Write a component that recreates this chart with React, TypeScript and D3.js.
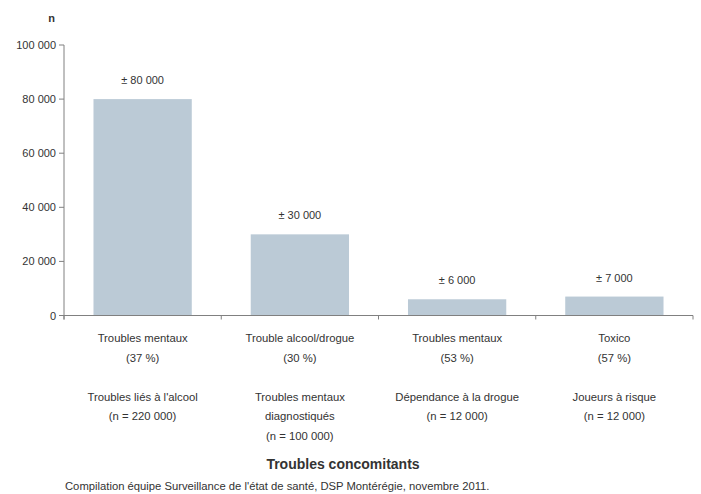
import React from "react";
import * as d3 from "d3";

const categoriesLine1 = ["Troubles mentaux", "Trouble alcool/drogue", "Troubles mentaux", "Toxico"];
const categoriesPct = ["(37 %)", "(30 %)", "(53 %)", "(57 %)"];
const populations = [
  ["Troubles liés à l'alcool", "(n = 220 000)"],
  ["Troubles mentaux", "diagnostiqués", "(n = 100 000)"],
  ["Dépendance à la drogue", "(n = 12 000)"],
  ["Joueurs à risque", "(n = 12 000)"],
];
const values = [80000, 30000, 6000, 7000];
const valueLabels = ["± 80 000", "± 30 000", "± 6 000", "± 7 000"];
const yTicks = [0, 20000, 40000, 60000, 80000, 100000];

const W = 701;
const H = 494;
const left = 64;
const right = 693;
const top = 45;
const bottom = 315.5;

const fmt = (v: number) => d3.format(",")(v).replace(/,/g, " ");

export default function App() {
  const ids = categoriesLine1.map((_, i) => String(i));
  const x = d3.scaleBand().domain(ids).range([left, right]).paddingInner(0.375).paddingOuter(0.1875);
  const y = d3.scaleLinear().domain([0, 100000]).range([bottom, top]);
  const font = "'Liberation Sans', Arial, sans-serif";
  const txt = "#333333";
  const axisColor = "#808080";
  const step = x.step();
  const catTicks = d3.range(ids.length + 1).map((i) => left + i * step);

  return (
    <svg width={W} height={H} style={{ position: "absolute", left: 0, top: 0 }} fontFamily={font}>
      <rect width={W} height={H} fill="#fff" />
      <text x={51.5} y={22} fontSize={11} fontWeight="bold" fill={txt} textAnchor="middle">n</text>
      {values.map((v, i) => (
        <g key={i}>
          <rect x={x(String(i))} y={y(v)} width={x.bandwidth()} height={y(0) - y(v)} fill="#BBCAD6" />
          <text x={x(String(i))! + x.bandwidth() / 2} y={y(v) - 15} fontSize={11} fill={txt} textAnchor="middle">
            {valueLabels[i]}
          </text>
        </g>
      ))}
      <line x1={left} x2={left} y1={top} y2={bottom + 4} stroke={axisColor} />
      <line x1={left} x2={right} y1={bottom} y2={bottom} stroke={axisColor} />
      {yTicks.map((t) => (
        <g key={t}>
          <line x1={left - 5} x2={left} y1={y(t)} y2={y(t)} stroke={axisColor} />
          <text x={56} y={y(t) + 4} fontSize={11} fill={txt} textAnchor="end">{fmt(t)}</text>
        </g>
      ))}
      {catTicks.map((cx, i) => (
        <line key={i} x1={cx} x2={cx} y1={bottom} y2={bottom + 4} stroke={axisColor} />
      ))}
      {ids.map((id, i) => {
        const cx = x(id)! + x.bandwidth() / 2;
        const lines = [categoriesLine1[i], categoriesPct[i], "", ...populations[i]];
        return (
          <text key={id} x={cx} fontSize={11.3} fill={txt} textAnchor="middle">
            {lines.map((l, j) => (
              <tspan key={j} x={cx} y={342 + j * 19.5}>{l}</tspan>
            ))}
          </text>
        );
      })}
      <text x={343} y={469} fontSize={14} fontWeight="bold" fill={txt} textAnchor="middle">
        Troubles concomitants
      </text>
      <text x={65} y={490} fontSize={11.25} fill={txt}>
        Compilation équipe Surveillance de l'état de santé, DSP Montérégie, novembre 2011.
      </text>
    </svg>
  );
}
